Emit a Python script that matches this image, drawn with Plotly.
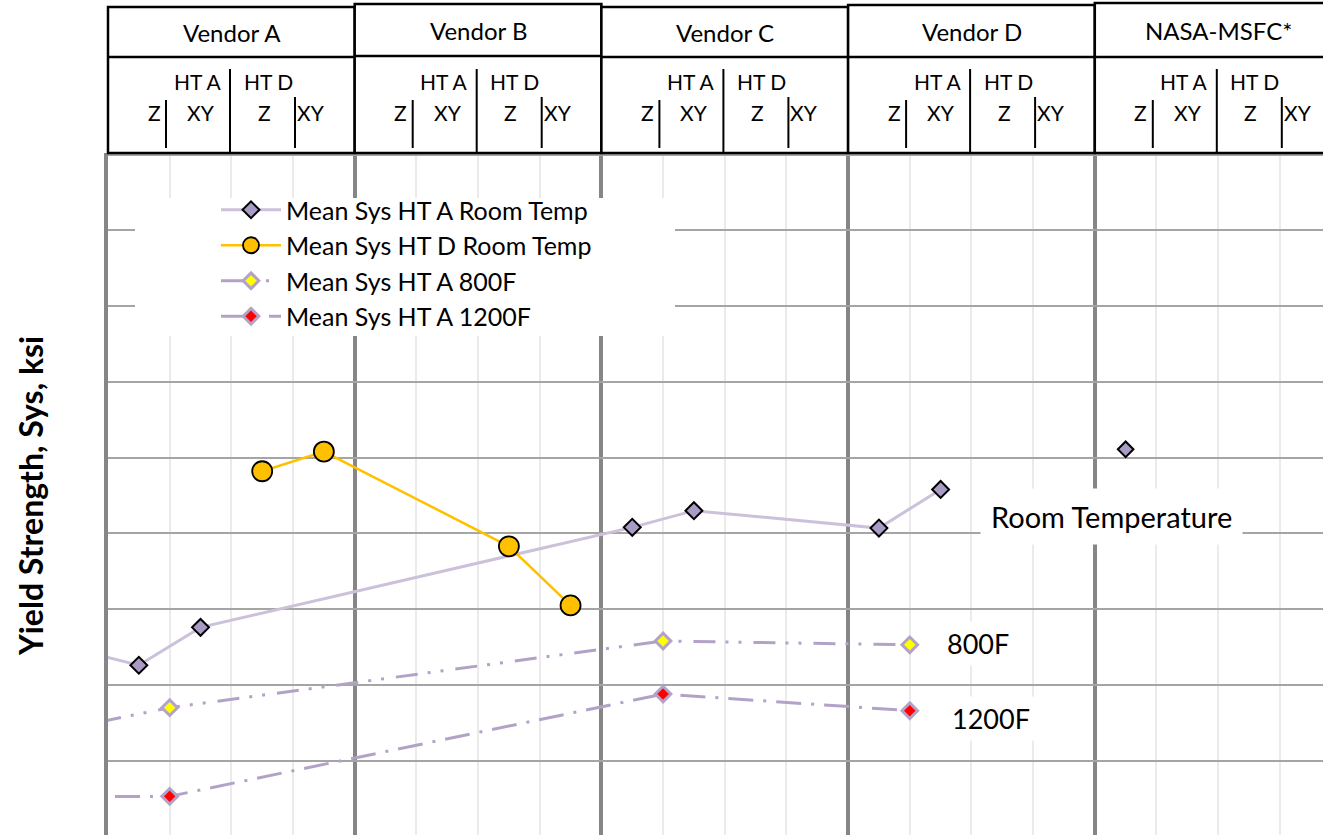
import plotly.graph_objects as go

# ---------------- data ----------------
vendors = ["Vendor A", "Vendor B", "Vendor C", "Vendor D", "NASA-MSFC*"]
# category centres: each vendor has 4 columns (HT A Z, HT A XY, HT D Z, HT D XY)
rt_hta_x = [-2.5, 0.5, 1.5, 8.5, 9.5, 12.5, 13.5]
rt_hta_y = [128.8, 122.6, 127.6, 140.8, 143.0, 140.7, 145.8]
nasa_x = [16.5]
nasa_y = [151.1]
rt_htd_x = [2.5, 3.5, 6.5, 7.5]
rt_htd_y = [148.2, 150.8, 138.3, 130.5]
f800_x = [-3, 1, 9, 13]
f800_y = [110.4, 117.0, 125.8, 125.3]
f1200_x = [-3, 1, 9, 13]
f1200_y = [105.2, 105.3, 118.8, 116.6]

FONT = "Lato"
W, H = 1323, 835
ML, MT = 108, 153
PW, PH = W - ML, H - MT


def px(x):
    return (x - ML) / PW


def py(y):
    return 1 - (y - MT) / PH


LAV = "#B3A2C7"

fig = go.Figure()
fig.add_trace(go.Scatter(
    x=rt_hta_x, y=rt_hta_y, mode="lines+markers", name="Mean Sys HT A Room Temp",
    legendgroup="a",
    line=dict(color="#CCC1DA", width=3),
    marker=dict(symbol="diamond", size=13, color="#A99BC6", line=dict(color="black", width=2))))
fig.add_trace(go.Scatter(
    x=nasa_x, y=nasa_y, mode="markers", showlegend=False, legendgroup="a",
    marker=dict(symbol="diamond", size=12, color="#A99BC6", line=dict(color="black", width=2))))
fig.add_trace(go.Scatter(
    x=rt_htd_x, y=rt_htd_y, mode="lines+markers", name="Mean Sys HT D Room Temp",
    legendgroup="b",
    line=dict(color="#FFC000", width=2.5),
    marker=dict(symbol="circle", size=20, color="#FFC000", line=dict(color="black", width=1.8))))
fig.add_trace(go.Scatter(
    x=f800_x, y=f800_y, mode="lines+markers", name="Mean Sys HT A 800F",
    legendgroup="c",
    line=dict(color=LAV, width=3, dash="22px,10px,3px,10px,3px,12px"),
    marker=dict(symbol="diamond", size=12, color="#FFFF00", line=dict(color=LAV, width=3))))
fig.add_trace(go.Scatter(
    x=f1200_x, y=f1200_y, mode="lines+markers", name="Mean Sys HT A 1200F",
    legendgroup="d",
    line=dict(color=LAV, width=3, dash="25px,10px,3px,10px"),
    marker=dict(symbol="diamond", size=12, color="#FF0000", line=dict(color=LAV, width=3))))

shapes = []
annotations = []


def label(text, x, y, size, **kw):
    d = dict(text=text, xref="paper", yref="paper", showarrow=False,
             x=px(x), y=py(y), xanchor="center", yanchor="middle",
             font=dict(family=FONT, size=size, color="black"))
    d.update(kw)
    annotations.append(d)


# legend background
shapes.append(dict(type="rect", xref="paper", yref="paper", layer="above",
                   x0=px(135), x1=px(675), y0=py(336), y1=py(198),
                   fillcolor="white", line=dict(width=0)))

# header boxes
tops = [7, 4, 7, 5, 3]
mids = [57, 56, 57, 57, 57]
VW = 4 * PW / 19.7
for i, v in enumerate(vendors):
    L = ML + i * VW
    R = min(L + VW, W + 2)
    shapes.append(dict(type="rect", xref="paper", yref="paper", layer="above",
                       x0=px(L), x1=px(R), y0=py(153), y1=py(tops[i]),
                       fillcolor="white", line=dict(color="black", width=2.5)))
    shapes.append(dict(type="line", xref="paper", yref="paper", layer="above",
                       x0=px(L), x1=px(R), y0=py(mids[i]), y1=py(mids[i]),
                       line=dict(color="black", width=2.5)))
    for (dx, y0, y1) in [(58, 100, 148), (122, 69, 152), (187, 97, 148)]:
        shapes.append(dict(type="line", xref="paper", yref="paper", layer="above",
                           x0=px(L + dx), x1=px(L + dx), y0=py(y0), y1=py(y1),
                           line=dict(color="black", width=2)))
    label(v, L + 124, (tops[i] + mids[i]) / 2 + 1, 24)
    for (t, dx, yy) in [("HT A", 89, 81), ("HT D", 160, 81), ("Z", 46, 112),
                        ("XY", 93, 112), ("Z", 156, 112), ("XY", 203, 112)]:
        label(t, L + dx, yy, 21)

# series labels
label("Room Temperature", 1111, 516, 29, bgcolor="white", borderpad=10)
label("800F", 978, 643, 27, bgcolor="white", borderpad=5)
label("1200F", 991, 718, 27, bgcolor="white", borderpad=5)
# y-axis title
label("<b>Yield Strength, Sys, ksi</b>", 30, 496, 32, textangle=-90)

fig.update_layout(
    width=W, height=H,
    margin=dict(l=ML, r=0, t=MT, b=0, pad=0),
    plot_bgcolor="white", paper_bgcolor="white",
    font=dict(family=FONT, color="black"),
    shapes=shapes, annotations=annotations,
    legend=dict(x=px(216), y=py(187), xanchor="left", yanchor="top",
                bgcolor="rgba(255,255,255,0)", borderwidth=0,
                font=dict(family=FONT, size=25, color="black"),
                itemwidth=60, tracegroupgap=0, traceorder="grouped"),
    xaxis=dict(range=[0, 19.7], showticklabels=False, ticks="", zeroline=False,
               showline=False, tick0=0, dtick=4, showgrid=True,
               gridcolor="#868686", gridwidth=3.5,
               minor=dict(tick0=0, dtick=1, showgrid=True, gridcolor="#EBEBEB", gridwidth=1.5)),
    yaxis=dict(range=[100.2, 190.2], showticklabels=False, ticks="", zeroline=False,
               tick0=0, dtick=10, showgrid=True, gridcolor="#A5A5A5", gridwidth=2,
               showline=True, linecolor="#868686", linewidth=4),
)

fig.write_html("out.html", config={"displayModeBar": False},
               post_script="document.body.style.margin='0';document.body.style.overflow='hidden';")
